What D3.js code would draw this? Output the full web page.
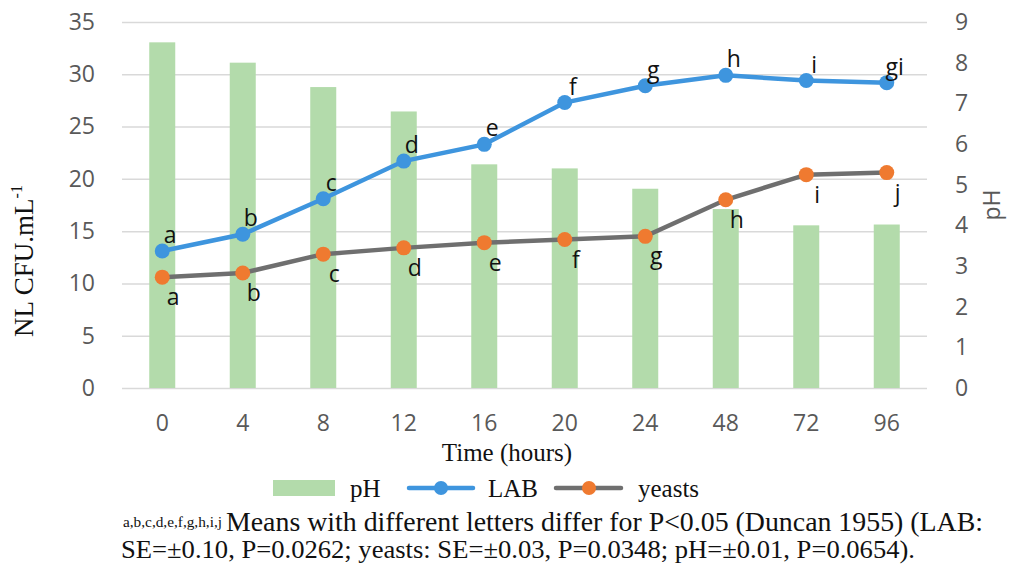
<!DOCTYPE html>
<html>
<head>
<meta charset="utf-8">
<script src="https://cdn.jsdelivr.net/npm/d3@7"></script>
<style>
  body { margin: 0; background: #fff; }
  svg { display: block; }
</style>
</head>
<body>
<svg id="chart" width="1017" height="566"></svg>
<script>
// Data
const times = ["0", "4", "8", "12", "16", "20", "24", "48", "72", "96"];
const phValues = [8.5, 8.0, 7.4, 6.8, 5.5, 5.4, 4.9, 4.4, 4.0, 4.02];
const labValues = [13.1, 14.7, 18.1, 21.7, 23.3, 27.3, 28.9, 29.9, 29.4, 29.2];
const yeastValues = [10.6, 11.0, 12.8, 13.4, 13.9, 14.2, 14.5, 18.0, 20.4, 20.6];
const labLetters = ["a", "b", "c", "d", "e", "f", "g", "h", "i", "gi"];
const yeastLetters = ["a", "b", "c", "d", "e", "f", "g", "h", "i", "j"];
const leftTicks = [0, 5, 10, 15, 20, 25, 30, 35];
const rightTicks = [0, 1, 2, 3, 4, 5, 6, 7, 8, 9];

// Colors
const C = {
    bar: "#b3dbab",
    lab: "#3e95de",
    yeastLine: "#6f6f6f",
    yeastDot: "#ef7a30",
    grid: "#d9d9d9",
    tick: "#595959"
};

const svg = d3.select("#chart");
svg.append("rect").attr("width", 1017).attr("height", 566).attr("fill", "#fff");

// Plot area
const plot = { left: 122, right: 927, top: 22, bottom: 388 };

const x = d3.scaleBand().domain(times).range([plot.left, plot.right]);
const yL = d3.scaleLinear().domain([0, 35]).range([plot.bottom, plot.top]);
const yR = d3.scaleLinear().domain([0, 9]).range([plot.bottom, plot.top]);
const cx = (t) => x(t) + x.bandwidth() / 2;

// Gridlines
svg.append("g")
    .attr("transform", `translate(${plot.left},0)`)
    .call(d3.axisLeft(yL).tickValues(leftTicks).tickSize(-(plot.right - plot.left)).tickFormat(""))
    .call(g => g.select(".domain").remove())
    .call(g => g.selectAll("line").attr("stroke", C.grid).attr("stroke-width", 1.5));

// Left axis labels
svg.append("g")
    .attr("transform", `translate(${plot.left},0)`)
    .call(d3.axisLeft(yL).tickValues(leftTicks).tickSize(0).tickPadding(27))
    .call(g => g.select(".domain").remove())
    .call(g => g.selectAll("text")
        .attr("fill", C.tick).attr("font-family", "Open Sans").attr("font-size", 23));

// Right axis labels
svg.append("g")
    .attr("transform", `translate(${plot.right},0)`)
    .call(d3.axisRight(yR).tickValues(rightTicks).tickSize(0).tickPadding(28))
    .call(g => g.select(".domain").remove())
    .call(g => g.selectAll("text")
        .attr("fill", C.tick).attr("font-family", "Open Sans").attr("font-size", 23));

// Bottom axis labels
svg.append("g")
    .attr("transform", `translate(0,${plot.bottom})`)
    .call(d3.axisBottom(x).tickSize(0).tickPadding(27))
    .call(g => g.select(".domain").remove())
    .call(g => g.selectAll("text")
        .attr("fill", C.tick).attr("font-family", "Open Sans").attr("font-size", 23));

// pH bars
const barW = 26;
svg.append("g").selectAll("rect")
    .data(phValues)
    .join("rect")
    .attr("x", (d, i) => cx(times[i]) - barW / 2)
    .attr("y", d => yR(d))
    .attr("width", barW)
    .attr("height", d => plot.bottom - yR(d))
    .attr("fill", C.bar);

// Lines
const line = (scale) => d3.line()
    .x((d, i) => cx(times[i]))
    .y(d => scale(d));

svg.append("path")
    .datum(yeastValues)
    .attr("d", line(yL))
    .attr("fill", "none")
    .attr("stroke", C.yeastLine)
    .attr("stroke-width", 4.5);

svg.append("path")
    .datum(labValues)
    .attr("d", line(yL))
    .attr("fill", "none")
    .attr("stroke", C.lab)
    .attr("stroke-width", 4.5);

svg.append("g").selectAll("circle")
    .data(yeastValues)
    .join("circle")
    .attr("cx", (d, i) => cx(times[i]))
    .attr("cy", d => yL(d))
    .attr("r", 7.5)
    .attr("fill", C.yeastDot);

svg.append("g").selectAll("circle")
    .data(labValues)
    .join("circle")
    .attr("cx", (d, i) => cx(times[i]))
    .attr("cy", d => yL(d))
    .attr("r", 7.5)
    .attr("fill", C.lab);

// Significance letters
const letterFont = { family: "Open Sans", size: 23 };
svg.append("g").selectAll("text")
    .data(labValues)
    .join("text")
    .attr("x", (d, i) => cx(times[i]) + 8)
    .attr("y", d => yL(d) - 8)
    .attr("text-anchor", "middle")
    .attr("font-family", letterFont.family)
    .attr("font-size", letterFont.size)
    .attr("fill", "#111")
    .text((d, i) => labLetters[i]);

svg.append("g").selectAll("text")
    .data(yeastValues)
    .join("text")
    .attr("x", (d, i) => cx(times[i]) + 11)
    .attr("y", d => yL(d) + 28)
    .attr("text-anchor", "middle")
    .attr("font-family", letterFont.family)
    .attr("font-size", letterFont.size)
    .attr("fill", "#111")
    .text((d, i) => yeastLetters[i]);

// Axis titles
svg.append("text")
    .attr("transform", "translate(33,261) rotate(-90)")
    .attr("text-anchor", "middle")
    .attr("font-family", "Liberation Serif")
    .attr("font-size", 27)
    .attr("fill", "#111")
    .call(t => {
        t.append("tspan").text("NL CFU.mL");
        t.append("tspan").attr("font-size", 16).attr("dy", -11).text("-1");
    });

svg.append("text")
    .attr("transform", "translate(1000,205) rotate(-90)")
    .attr("text-anchor", "middle")
    .attr("font-family", "Open Sans")
    .attr("font-size", 23)
    .attr("fill", C.tick)
    .text("pH");

svg.append("text")
    .attr("x", 507).attr("y", 461)
    .attr("text-anchor", "middle")
    .attr("font-family", "Liberation Serif")
    .attr("font-size", 25)
    .attr("fill", "#111")
    .text("Time (hours)");

// Legend
const legend = svg.append("g").attr("font-family", "Liberation Serif").attr("font-size", 25).attr("fill", "#111");
legend.append("rect").attr("x", 273).attr("y", 480).attr("width", 62).attr("height", 16).attr("fill", C.bar);
legend.append("text").attr("x", 350).attr("y", 497).text("pH");

legend.append("line").attr("x1", 409).attr("x2", 473).attr("y1", 488).attr("y2", 488)
    .attr("stroke", C.lab).attr("stroke-width", 4.5).attr("stroke-linecap", "round");
legend.append("circle").attr("cx", 441).attr("cy", 488).attr("r", 7).attr("fill", C.lab);
legend.append("text").attr("x", 488).attr("y", 497).text("LAB");

legend.append("line").attr("x1", 556).attr("x2", 621).attr("y1", 488).attr("y2", 488)
    .attr("stroke", C.yeastLine).attr("stroke-width", 4.5).attr("stroke-linecap", "round");
legend.append("circle").attr("cx", 589).attr("cy", 488).attr("r", 7).attr("fill", C.yeastDot);
legend.append("text").attr("x", 638).attr("y", 497).text("yeasts");

// Footnote
const note = svg.append("g").attr("font-family", "Liberation Serif").attr("fill", "#111");
note.append("text").attr("x", 123).attr("y", 527).attr("font-size", 15)
    .attr("textLength", 99).attr("lengthAdjust", "spacingAndGlyphs")
    .text("a,b,c,d,e,f,g,h,i,j");
note.append("text").attr("x", 226).attr("y", 531).attr("font-size", 27)
    .attr("textLength", 757).attr("lengthAdjust", "spacingAndGlyphs")
    .text("Means with different letters differ for P<0.05 (Duncan 1955) (LAB:");
note.append("text").attr("x", 121).attr("y", 558).attr("font-size", 26)
    .attr("textLength", 794).attr("lengthAdjust", "spacingAndGlyphs")
    .text("SE=±0.10, P=0.0262; yeasts: SE=±0.03, P=0.0348; pH=±0.01, P=0.0654).");
</script>
</body>
</html>
